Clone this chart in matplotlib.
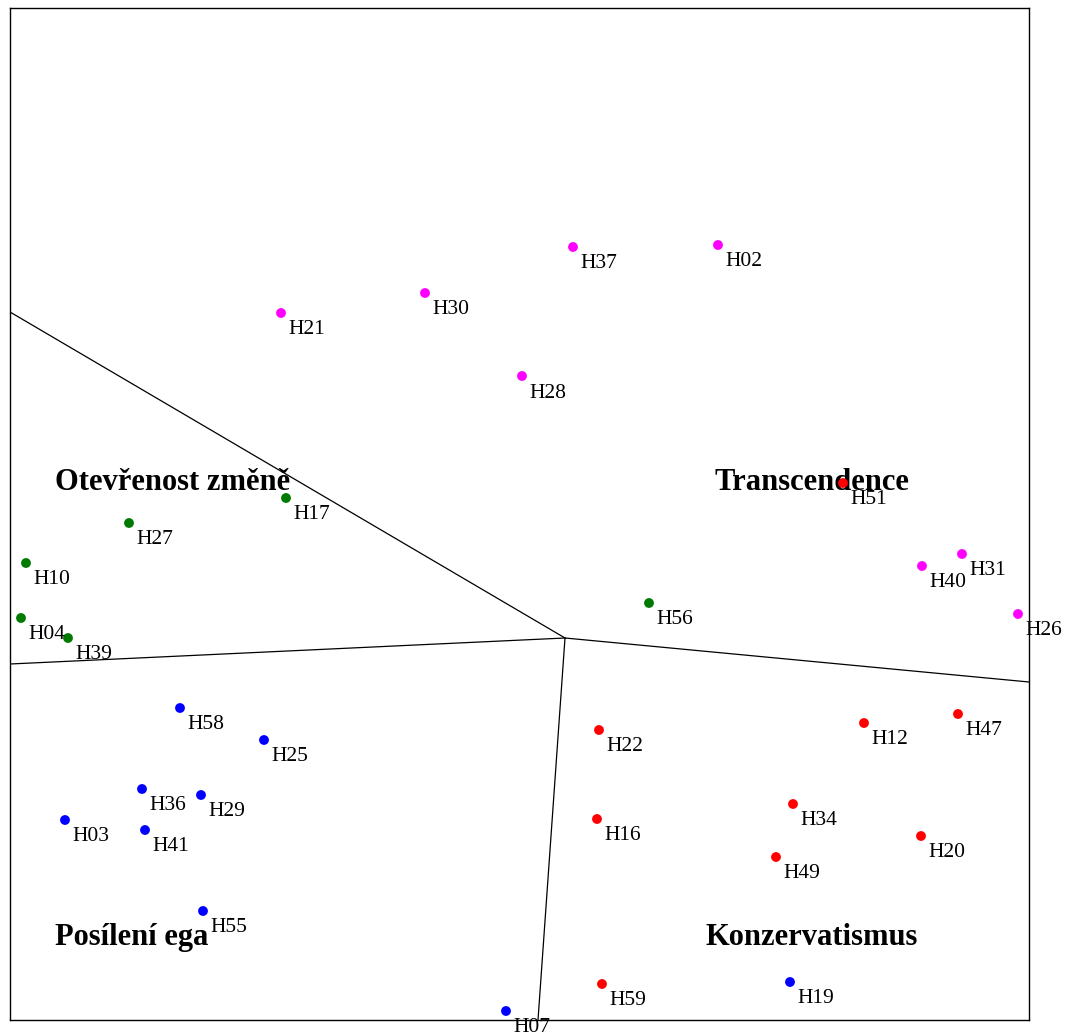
import matplotlib
matplotlib.use("Agg")
import matplotlib.pyplot as plt

# coordinates (pixel-like map units, y grows downward)
magenta_names = ["H37", "H02", "H30", "H21", "H28", "H40", "H31", "H26"]
magenta_x = [573, 718, 425, 281, 522, 922, 962, 1018]
magenta_y = [247, 245, 293, 313, 376, 566, 554, 614]

green_names = ["H17", "H27", "H10", "H04", "H39", "H56"]
green_x = [286, 129, 26, 21, 68, 649]
green_y = [498, 523, 563, 618, 638, 603]

red_names = ["H51", "H12", "H47", "H22", "H34", "H20", "H16", "H49", "H59"]
red_x = [843, 864, 958, 599, 793, 921, 597, 776, 602]
red_y = [483, 723, 714, 730, 804, 836, 819, 857, 984]

blue_names = ["H58", "H25", "H36", "H29", "H03", "H41", "H55", "H19", "H07"]
blue_x = [180, 264, 142, 201, 65, 145, 203, 790, 506]
blue_y = [708, 740, 789, 795, 820, 830, 911, 982, 1011]

# partition lines: centre and end points on the frame
centre = (565, 638)
line_ends = [(10, 312), (10, 664), (1029, 682), (538, 1020)]

regions = ["Otevřenost změně", "Transcendence", "Posílení ega", "Konzervatismus"]
region_x = [55, 715, 55, 706]
region_y = [483, 483, 938, 938]

W, H = 1069, 1032
fig = plt.figure(figsize=(W / 100, H / 100), dpi=100)
ax = fig.add_axes([10 / W, 1 - 1020 / H, 1019 / W, 1012 / H])
ax.set_xlim(10, 1029)
ax.set_ylim(1020, 8)
ax.set_xticks([])
ax.set_yticks([])
for s in ax.spines.values():
    s.set_linewidth(1.0)
    s.set_color("black")

for ex, ey in line_ends:
    ax.plot([centre[0], ex], [centre[1], ey], color="black", lw=0.9)

groups = [
    (magenta_names, magenta_x, magenta_y, "#ff00ff"),
    (green_names, green_x, green_y, "#007a00"),
    (red_names, red_x, red_y, "#ff0000"),
    (blue_names, blue_x, blue_y, "#0000ff"),
]

for rname, rx, ry in zip(regions, region_x, region_y):
    ax.text(rx, ry, rname, ha="left", va="center", fontsize=22,
            fontweight="bold", family="Liberation Serif", zorder=2)

for names, xs, ys, col in groups:
    ax.scatter(xs, ys, s=50, color=col, edgecolors="none", zorder=3)
    for n, x, y in zip(names, xs, ys):
        ax.text(x + 7, y + 17, n, ha="left", va="center", fontsize=15.5,
                family="Liberation Serif", clip_on=False, zorder=4)

fig.savefig("out.png", dpi=100)
